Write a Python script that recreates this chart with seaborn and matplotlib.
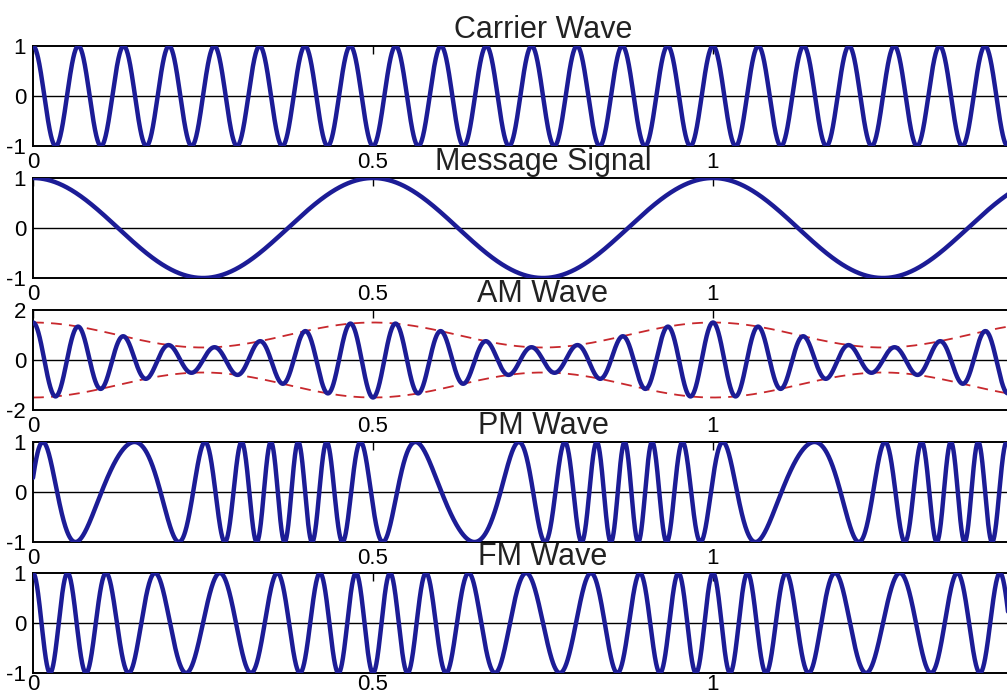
import numpy as np
import pandas as pd
import matplotlib
matplotlib.use('Agg')
import matplotlib.pyplot as plt
import seaborn as sns

# --- Signal parameters ---
carrier_freq = 15      # cycles per unit time (15 peaks between 0 and 1)
message_freq = 2       # message peaks at 0, 0.5, 1
am_index = 0.5         # envelope swings between 0.5 and 1.5
pm_index = 5           # phase deviation (rad)
fm_beta = 2.5          # FM modulation index
t_end = 1.5

titles = ['Carrier Wave', 'Message Signal', 'AM Wave', 'PM Wave', 'FM Wave']
y_limits = [(-1, 1), (-1, 1), (-2, 2), (-1, 1), (-1, 1)]
y_ticks = [[-1, 0, 1], [-1, 0, 1], [-2, 0, 2], [-1, 0, 1], [-1, 0, 1]]
x_ticks = [0, 0.5, 1]
x_ticklabels = ['0', '0.5', '1']

LINE_COLOR = '#1c1c96'
ENV_COLOR = '#c8282d'

t = np.linspace(0, t_end, 4000)
message = np.cos(2 * np.pi * message_freq * t)
carrier = np.cos(2 * np.pi * carrier_freq * t)
envelope = 1 + am_index * message
am_wave = envelope * carrier
pm_wave = np.cos(2 * np.pi * carrier_freq * t + pm_index * message)
fm_wave = np.cos(2 * np.pi * carrier_freq * t + fm_beta * np.sin(2 * np.pi * message_freq * t))

waves = pd.DataFrame({
    't': t,
    'Carrier Wave': carrier,
    'Message Signal': message,
    'AM Wave': am_wave,
    'PM Wave': pm_wave,
    'FM Wave': fm_wave,
})

sns.set_style('white')
plt.rcParams['font.family'] = ['Liberation Sans', 'DejaVu Sans']

W, H = 1007, 696
fig = plt.figure(figsize=(W / 100, H / 100), dpi=100)

# Axes boxes in pixels (top edge), all 100 px tall and spaced 132 px apart.
tops = [46, 178, 310, 442, 573]
ax_h = 100
left_px = 33
ax_w = 1020   # x axis runs to 1.5, the right part falls off the image

for i, name in enumerate(titles):
    top = tops[i]
    ax = fig.add_axes([left_px / W, 1 - (top + ax_h) / H, ax_w / W, ax_h / H])
    ax.axhline(0, color='black', lw=1.0, zorder=1)
    sns.lineplot(data=waves, x='t', y=name, ax=ax, color=LINE_COLOR,
                 lw=3.2, zorder=3)
    if name == 'AM Wave':
        sns.lineplot(x=t, y=envelope, ax=ax, color=ENV_COLOR, lw=1.3,
                     linestyle=(0, (6, 4)), zorder=2)
        sns.lineplot(x=t, y=-envelope, ax=ax, color=ENV_COLOR, lw=1.3,
                     linestyle=(0, (6, 4)), zorder=2)
    ax.set_xlim(0, t_end)
    ax.set_ylim(*y_limits[i])
    ax.set_xticks(x_ticks)
    ax.set_xticklabels(x_ticklabels)
    ax.set_yticks(y_ticks[i])
    ax.set_yticklabels([str(v) for v in y_ticks[i]])
    ax.set_xlabel('')
    ax.set_ylabel('')
    ax.tick_params(direction='in', length=6, width=1, labelsize=16,
                   top=True, right=True, pad=4, colors='black')
    ax.tick_params(axis='y', pad=5)
    if i == len(titles) - 1:
        ax.tick_params(axis='x', pad=1)
    for s in ax.spines.values():
        s.set_color('black')
        s.set_linewidth(1.4)
    # Title centred on the full axes width, as in the reference
    ax.set_title(name, fontsize=22, pad=6, color='#222222')

fig.savefig('out.png', dpi=100)
